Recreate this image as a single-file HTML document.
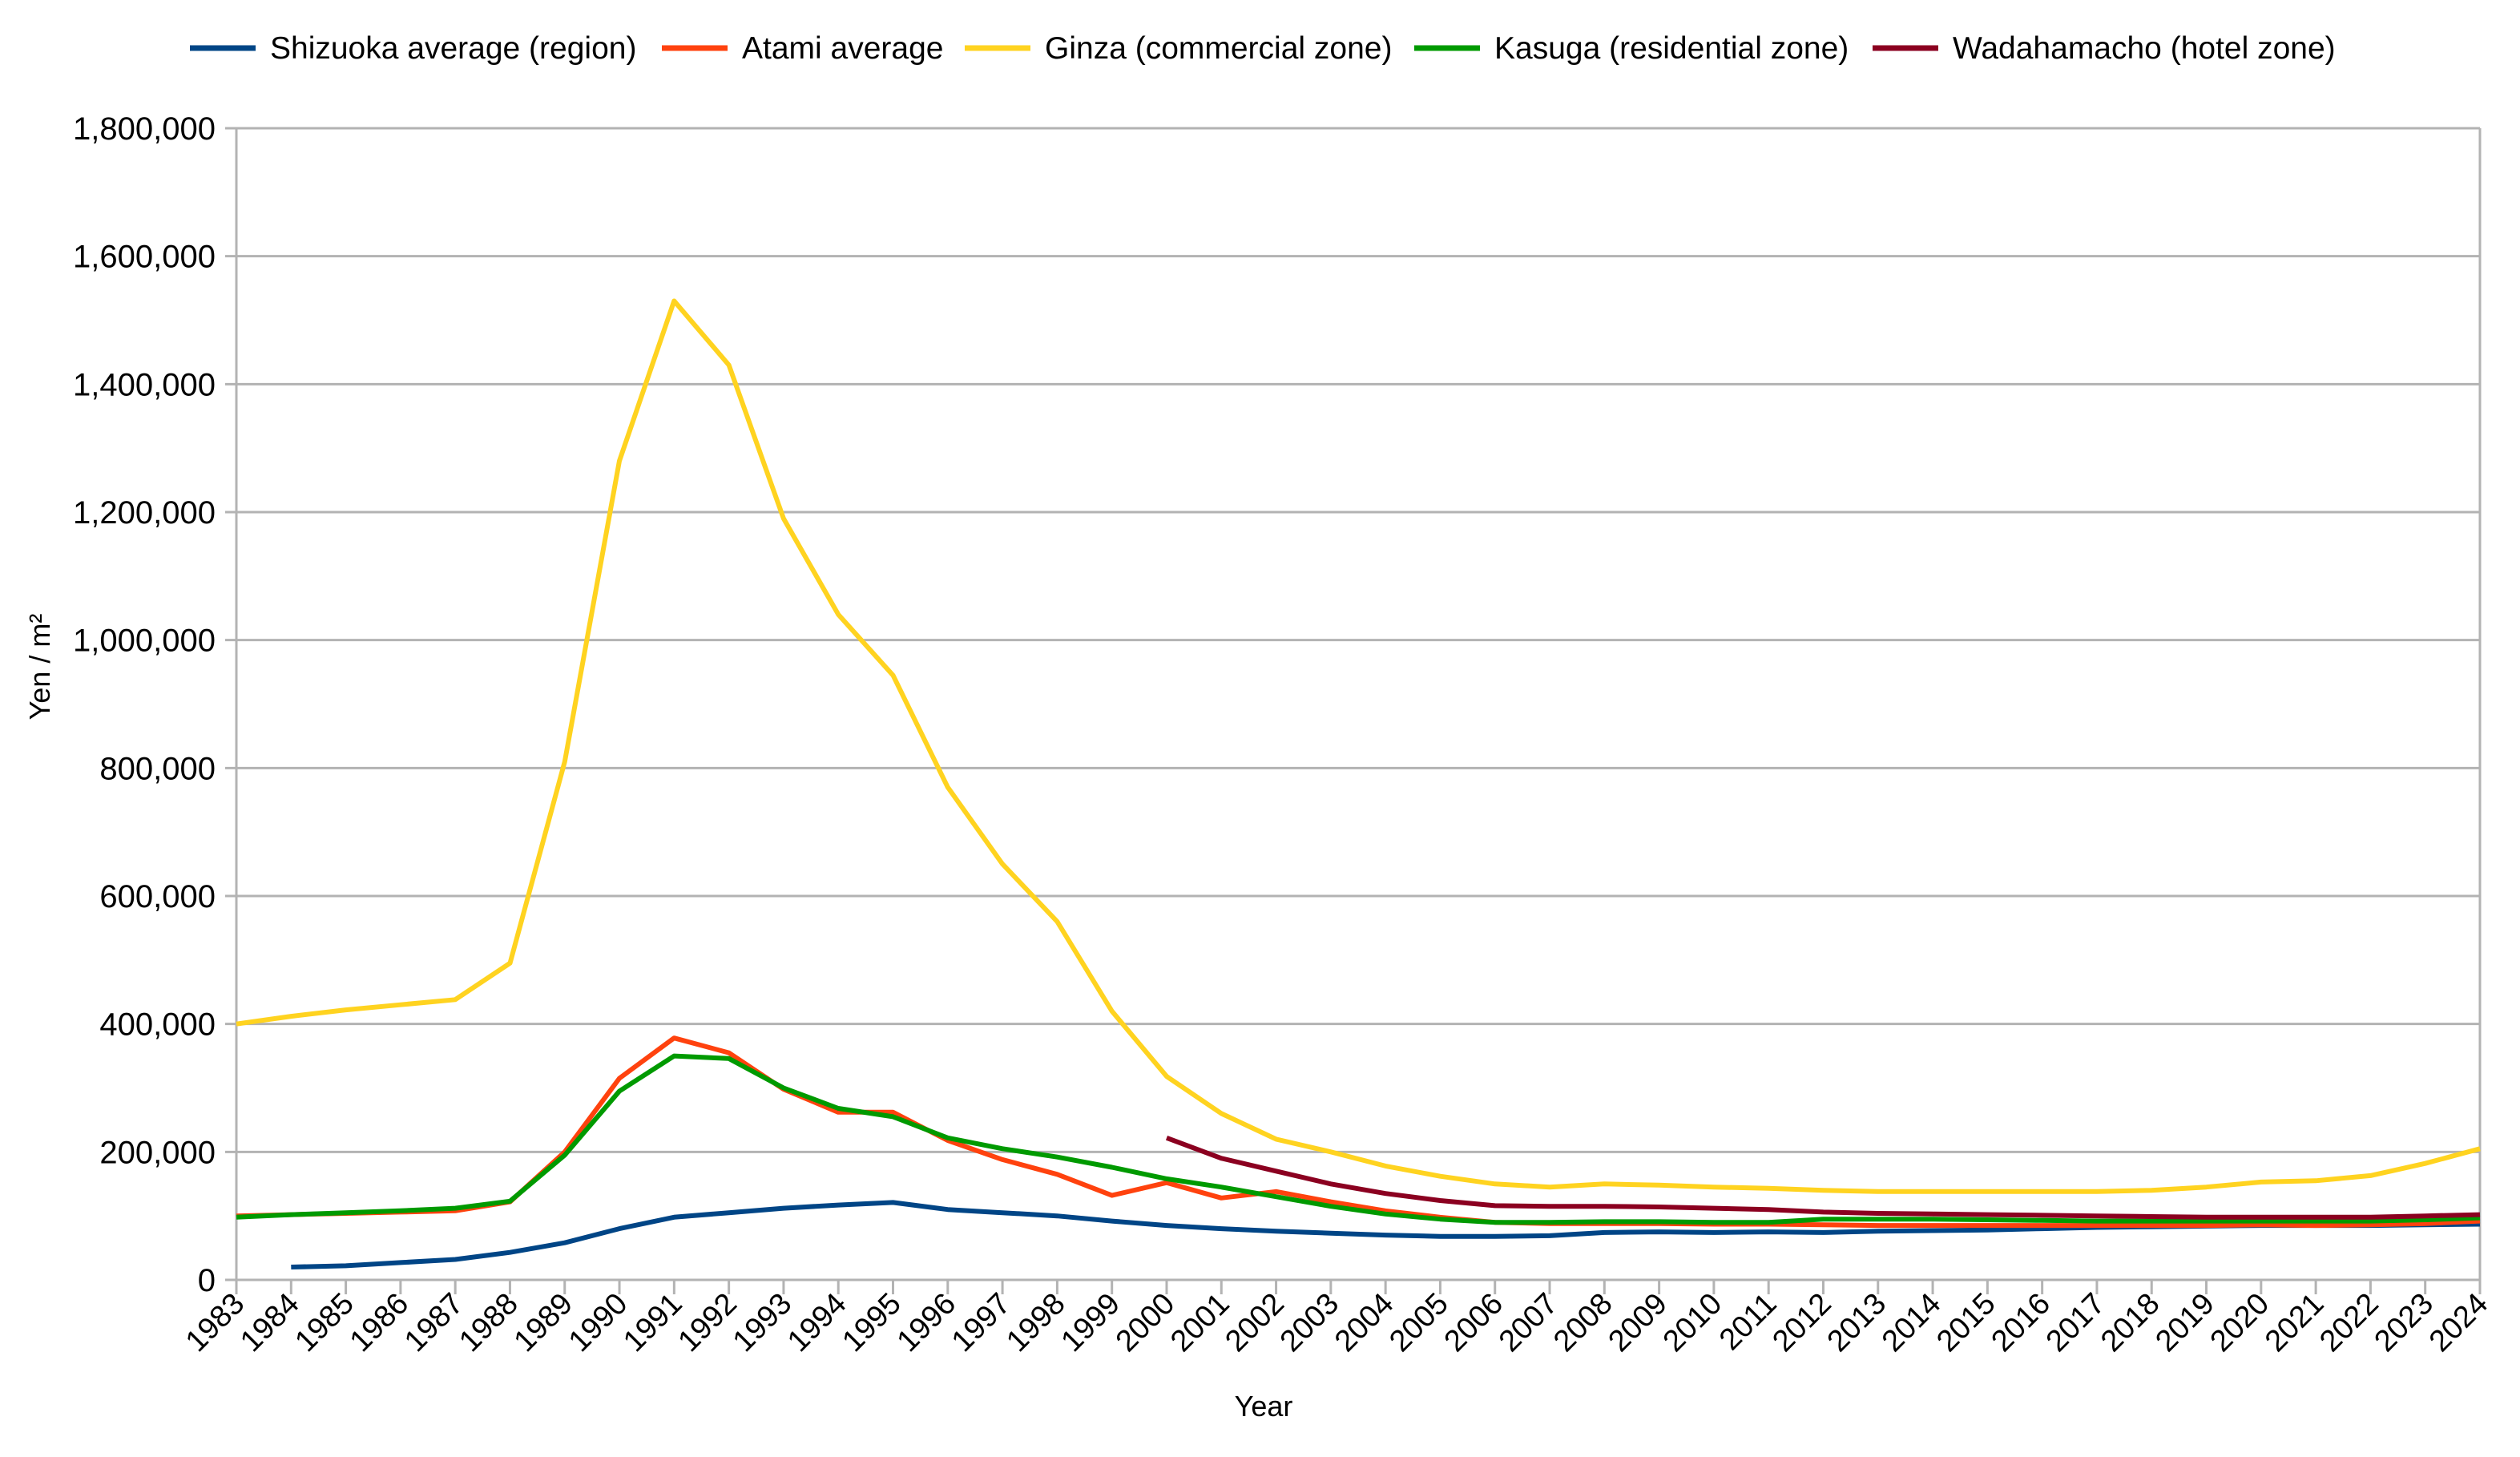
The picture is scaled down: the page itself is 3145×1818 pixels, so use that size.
<!DOCTYPE html>
<html><head><meta charset="utf-8"><style>
body{margin:0;background:#fff;}
svg text{font-family:"Liberation Sans",sans-serif;fill:#000;}
</style></head><body>
<svg id="chart" width="3145" height="1813" xmlns="http://www.w3.org/2000/svg">
<g id="grid"></g>
<g id="axes"></g>
<g id="series"></g>
<g id="legend"></g>
<text x="62" y="832" font-size="36" text-anchor="middle" transform="rotate(-90 62 832)">Yen / m²</text>
<text x="1577" y="1767" font-size="36" text-anchor="middle">Year</text>
</svg>
<script>
const years = [];
for (let y = 1983; y <= 2024; y++) years.push(y);
const yTicks = [0,200000,400000,600000,800000,1000000,1200000,1400000,1600000,1800000];
const shizuoka = [null,20,22,27,32,43,58,80,98,105,112,117,121,110,105,100,92,85,80,76,73,70,68,68,69,74,75,74,75,74,76,77,78,80,82,83,84,85,85,85,86,87];
const atami = [100,102,104,106,108,122,200,315,378,355,298,262,262,218,188,165,132,152,128,138,122,108,98,90,88,88,88,87,87,86,85,85,85,85,85,85,85,86,85,86,88,92];
const ginza = [400,412,422,430,438,495,810,1280,1530,1430,1190,1040,945,770,650,560,420,318,260,220,200,178,162,150,145,150,148,145,143,140,138,138,138,138,138,140,145,153,155,163,182,205];
const kasuga = [98,102,105,108,112,123,195,295,350,346,300,268,255,222,205,192,176,158,145,130,115,103,95,90,90,91,91,90,90,95,95,95,94,93,92,92,92,92,92,92,94,97];
const wadahamacho = [null,null,null,null,null,null,null,null,null,null,null,null,null,null,null,null,null,222,190,170,150,135,124,116,115,115,114,112,110,106,104,103,102,101,100,99,98,98,98,98,100,102];
const seriesNames = ["Shizuoka average (region)","Atami average","Ginza (commercial zone)","Kasuga (residential zone)","Wadahamacho (hotel zone)"];
const seriesColors = ["#004586","#ff420e","#ffd320","#009a00","#8b0020"];
const seriesData = [shizuoka, atami, ginza, kasuga, wadahamacho];

const NS = "http://www.w3.org/2000/svg";
const L=295,R=3095,T=160,B=1597;
const xs = i => L + (R-L)*i/(years.length-1);
const ys = v => B - (B-T)*v/1800000;
function mk(tag, attrs, parent){const e=document.createElementNS(NS,tag);for(const k in attrs)e.setAttribute(k,attrs[k]);parent.appendChild(e);return e;}
const grid=document.getElementById('grid'), axes=document.getElementById('axes'), ser=document.getElementById('series'), leg=document.getElementById('legend');

yTicks.forEach(v=>{
  const y=ys(v);
  const g=mk('line',{x1:L-14,x2:R,y1:y,y2:y,stroke:'#b3b3b3','stroke-width':3},grid);
  
  
  const t=mk('text',{x:269,y:y+14,'font-size':40,'text-anchor':'end'},axes);
  t.textContent=v.toLocaleString('en-US');
  
  
});
const ax=mk('line',{x1:L,x2:L,y1:T,y2:B,stroke:'#b3b3b3','stroke-width':3},axes);


const ax2=mk('line',{x1:R,x2:R,y1:T,y2:B,stroke:'#b3b3b3','stroke-width':3},axes);


years.forEach((yr,i)=>{
  const x=xs(i);
  const tk=mk('line',{x1:x,x2:x,y1:B,y2:B+18,stroke:'#b3b3b3','stroke-width':3},axes);
  
  
  const t=mk('text',{x:x+12,y:B+32,'font-size':38,'text-anchor':'end',transform:`rotate(-45 ${x+12} ${B+32})`},axes);
  t.textContent=yr;
  
  
});
seriesData.forEach((arr,s)=>{
  let d='';let started=false;
  arr.forEach((v,i)=>{if(v==null)return;d+=(started?'L':'M')+xs(i).toFixed(1)+' '+ys(v*1000).toFixed(1)+' ';started=true;});
  const p=mk('path',{d:d,fill:'none',stroke:seriesColors[s],'stroke-width':6,'stroke-linejoin':'round'},ser);
  
  
});
const legX=[237,826,1204,1765,2337];
seriesNames.forEach((n,s)=>{
  const x=legX[s];
  const ln=mk('line',{x1:x,x2:x+82,y1:60,y2:60,stroke:seriesColors[s],'stroke-width':7},leg);
  
  
  const t=mk('text',{x:x+100,y:73,'font-size':39},leg);
  t.textContent=n;
  
  
});
</script>
</body></html>
